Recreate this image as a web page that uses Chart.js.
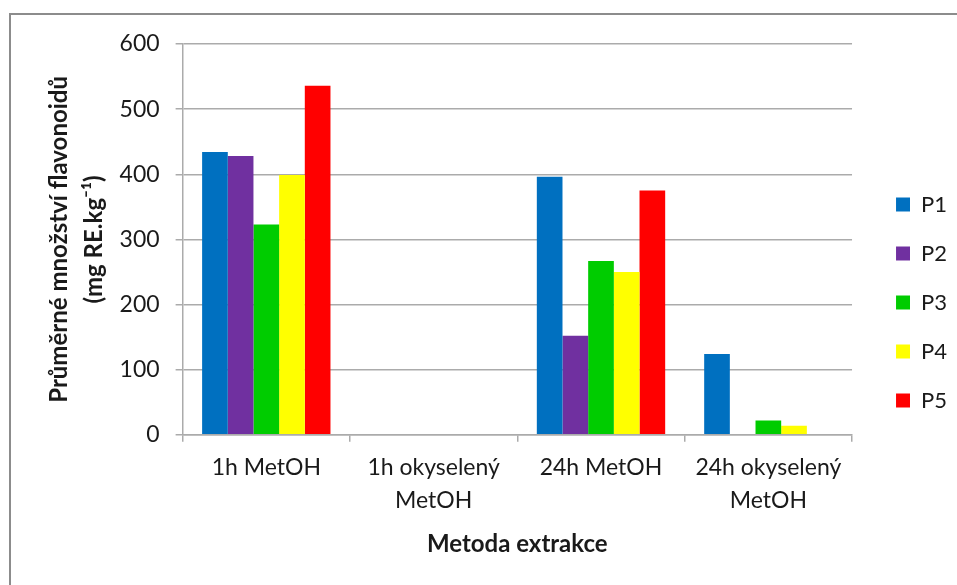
<!DOCTYPE html>
<html>
<head>
<meta charset="utf-8">
<script src="https://cdn.jsdelivr.net/npm/chart.js@4.4.0/dist/chart.umd.min.js"></script>
<style>
  html, body { margin: 0; padding: 0; background: #fff; }
  #wrap { position: relative; width: 957px; height: 585px; overflow: hidden; }
  #frame { position: absolute; left: 9px; top: 13px; width: 1000px; height: 700px;
           border-left: 2px solid #8c8c8c; border-top: 2px solid #8c8c8c; box-sizing: border-box; }
  canvas { position: absolute; left: 0; top: 0; }
</style>
</head>
<body>
<div id="wrap">
  <div id="frame"></div>
  <canvas id="c" width="957" height="585"></canvas>
</div>
<script>
// Extraction methods (x categories)
const categories = [
  "1h MetOH",
  ["1h okyselený", "MetOH"],
  "24h MetOH",
  ["24h okyselený", "MetOH"]
];

// Mean flavonoid content per sample, mg RE.kg-1
const P1 = [434, 0, 396, 124];
const P2 = [428, 0, 152, 0];
const P3 = [323, 0, 267, 22];
const P4 = [399, 0, 250, 14];
const P5 = [536, 0, 375, 0];

const seriesNames = ["P1", "P2", "P3", "P4", "P5"];
const seriesColors = ["#0070C0", "#7030A0", "#00CC00", "#FFFF00", "#FF0000"];
const seriesValues = [P1, P2, P3, P4, P5];

const yTicks = [0, 100, 200, 300, 400, 500, 600];

const FONT = "Lato, 'Open Sans', sans-serif";
const TEXT = "#1a1a1a";
const gridGray = "#ababab";

new Chart(document.getElementById("c"), {
  type: "bar",
  data: {
    labels: categories,
    datasets: seriesNames.map((name, i) => ({
      label: name,
      data: seriesValues[i],
      backgroundColor: seriesColors[i],
      borderWidth: 0,
      categoryPercentage: 0.767,
      barPercentage: 1.0
    }))
  },
  options: {
    responsive: false,
    animation: false,
    layout: { padding: { left: 42, top: 44, right: 0, bottom: 24 } },
    plugins: {
      tooltip: { enabled: false },
      legend: {
        position: "right",
        align: "center",
        labels: {
          boxWidth: 14,
          boxHeight: 14,
          padding: 27,
          color: TEXT,
          font: { family: FONT, size: 22 }
        }
      }
    },
    scales: {
      x: {
        offset: true,
        grid: {
          offset: true,
          drawOnChartArea: false,
          drawTicks: true,
          tickLength: 7,
          color: gridGray,
          lineWidth: 1.5
        },
        border: { display: true, color: gridGray, width: 1.5 },
        ticks: {
          color: TEXT,
          font: { family: FONT, size: 23, lineHeight: 1.4 },
          padding: 10,
          maxRotation: 0,
          autoSkip: false
        },
        title: {
          display: true,
          text: "Metoda extrakce",
          color: TEXT,
          font: { family: FONT, size: 24, weight: "bold" },
          padding: { top: 4, bottom: 2 }
        }
      },
      y: {
        min: 0,
        max: 600,
        afterBuildTicks: (scale) => { scale.ticks = yTicks.map(v => ({ value: v })); },
        grid: {
          color: gridGray,
          lineWidth: 1.5,
          drawTicks: true,
          tickLength: 7
        },
        border: { display: true, color: gridGray, width: 1.5 },
        ticks: {
          color: TEXT,
          font: { family: FONT, size: 23 },
          padding: 16
        },
        title: {
          display: true,
          text: ["Průměrné množství flavonoidů", "(mg RE.kg⁻¹)"],
          color: TEXT,
          font: { family: FONT, size: 24, weight: "bold", lineHeight: 1.45 },
          padding: { top: 0, bottom: -8 }
        }
      },
      // empty spacer between the plot and the legend
      gap: {
        type: "linear",
        position: "right",
        display: true,
        grid: { display: false },
        border: { display: false },
        ticks: { display: false },
        afterFit: (scale) => { scale.width = 17; }
      }
    }
  }
});
</script>
</body>
</html>
